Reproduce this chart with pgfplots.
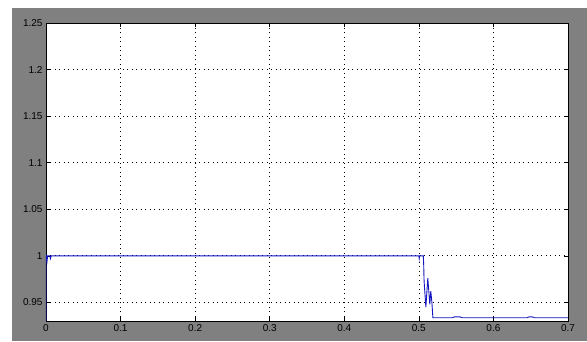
\documentclass[border=0pt]{standalone}
\usepackage{pgfplots}
\pgfplotsset{compat=1.18}
\usepackage{fontspec}
\setmainfont{Liberation Sans}
\definecolor{bggray}{RGB}{128,128,128}
\definecolor{mblue}{RGB}{20,20,190}
\begin{document}
\begin{tikzpicture}
\fill[white] (0pt,0pt) rectangle (587pt,341pt);
\fill[bggray] (12pt,0pt) rectangle (587pt,333pt);
\begin{axis}[
  at={(46pt,20pt)}, anchor=south west,
  scale only axis, width=522pt, height=298pt,
  xmin=0, xmax=0.7, ymin=0.93, ymax=1.25,
  xtick={0,0.1,0.2,0.3,0.4,0.5,0.6,0.7},
  xticklabels={0,0.1,0.2,0.3,0.4,0.5,0.6,0.7},
  ytick={0.95,1,1.05,1.1,1.15,1.2,1.25},
  yticklabels={0.95,1,1.05,1.1,1.15,1.2,1.25},
  grid=major,
  major grid style={black, line width=0.7pt, dash pattern=on 1pt off 3.5pt},
  tick align=inside, major tick length=4pt,
  tick style={black, line width=0.6pt},
  axis line style={black, line width=0.8pt},
  axis background/.style={fill=white},
  tick label style={font=\fontsize{10}{12}\selectfont, black},
  /pgf/number format/assume math mode=true,
  clip=true,
]
\addplot[mblue, line width=0.9pt] coordinates {
(0,0.93) (0,0.998) (0.0008,1.0) (0.0015,0.995) (0.0022,1.0) (0.005,1.0)
(0.006,0.997) (0.007,1.0) (0.01,1.0)
(0.2,1.0) (0.4,1.0) (0.5,1.0) (0.5005,0.997) (0.501,1.0) (0.506,1.0)
(0.5065,0.99) (0.507,0.973) (0.5094,0.945) (0.512,0.976) (0.5147,0.948)
(0.516,0.962) (0.5175,0.95) (0.5188,0.9335) (0.545,0.9335) (0.548,0.9345)
(0.555,0.9345) (0.558,0.9335) (0.645,0.9335) (0.648,0.9345) (0.652,0.9345)
(0.655,0.9335) (0.7,0.9335)
};
\end{axis}
\end{tikzpicture}
\end{document}
